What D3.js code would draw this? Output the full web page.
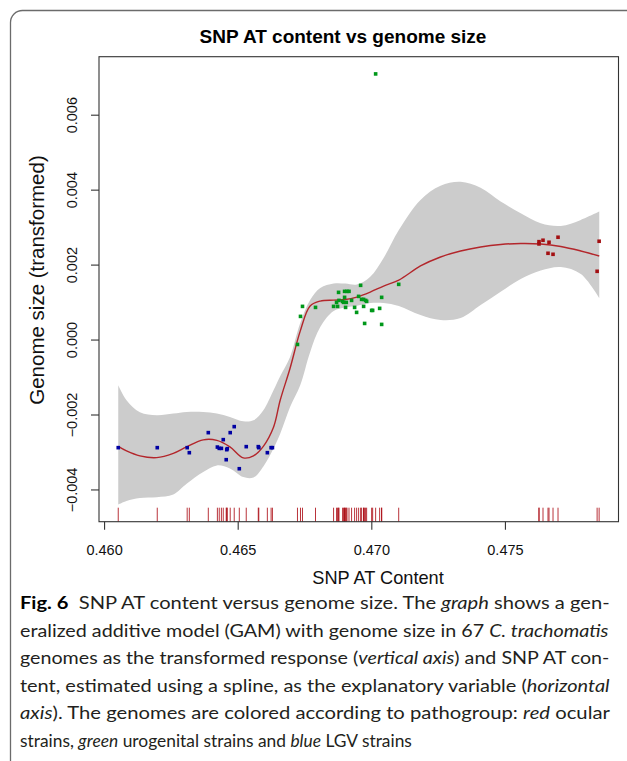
<!DOCTYPE html>
<html>
<head>
<meta charset="utf-8">
<script src="https://cdn.jsdelivr.net/npm/d3@7"></script>
<style>
  html, body { margin: 0; padding: 0; background: #fff; }
  svg { display: block; }
</style>
</head>
<body>
<svg id="chart" width="627" height="761"></svg>
<script>
// ---------------- data ----------------
const blueX = [0.46053,0.46199,0.46311,0.46319,0.46390,0.46424,0.46431,0.46439,0.46446,0.46459,0.46461,0.46472,0.46487,0.46457,0.46506,0.46532,0.46577,0.46579,0.46611,0.46625,0.46630];
const blueY = [-0.002885,-0.002885,-0.002885,-0.003019,-0.002484,-0.002869,-0.002904,-0.002904,-0.002671,-0.002939,-0.002912,-0.002484,-0.002324,-0.003206,-0.003447,-0.002858,-0.002858,-0.002885,-0.003019,-0.002885,-0.002885];

const greenX = [0.467237,0.467350,0.467425,0.467912,0.468588,0.468738,0.468700,0.468775,0.468790,0.468925,0.468962,0.469064,0.469000,0.469090,0.469165,0.469000,0.469037,0.469262,0.469375,0.469450,0.469525,0.469600,0.469637,0.469712,0.469787,0.469825,0.469712,0.469750,0.470012,0.470050,0.470312,0.470387,0.470387,0.471025,0.470162];
const greenY = [-0.000131,0.000618,0.000885,0.000858,0.000885,0.000885,0.000992,0.001259,0.001045,0.001019,0.000992,0.000992,0.001286,0.001286,0.001286,0.001126,0.000858,0.001045,0.000858,0.000725,0.001152,0.001447,0.001072,0.001072,0.001045,0.001019,0.000885,0.000430,0.000778,0.000778,0.000832,0.001126,0.000404,0.001473,0.007088];

const redX = [0.476275,0.476275,0.476425,0.476650,0.476987,0.476612,0.476800,0.478525,0.478450];
const redY = [0.002612,0.002551,0.002650,0.002596,0.002730,0.002302,0.002275,0.002623,0.001821];

// GAM smooth: grid, fit and shaded confidence band
const gridX = [0.46053,0.46084,0.46134,0.46197,0.46259,0.46309,0.46371,0.46422,0.46471,0.46521,0.46559,0.46596,0.46634,0.46659,0.46696,0.46734,0.46771,0.46809,0.46859,0.46903,0.46946,0.46996,0.47046,0.47103,0.47184,0.47259,0.47334,0.47409,0.47484,0.47559,0.47634,0.47709,0.47784,0.47853];
const fitY = [-0.002850,-0.002971,-0.003104,-0.003150,-0.003037,-0.002864,-0.002676,-0.002690,-0.002864,-0.003158,-0.003104,-0.002850,-0.002342,-0.001620,-0.000765,0.000225,0.000893,0.001027,0.001053,0.001067,0.001134,0.001267,0.001428,0.001588,0.001963,0.002203,0.002364,0.002471,0.002537,0.002564,0.002551,0.002484,0.002364,0.002230];
const upperY = [-0.001219,-0.001620,-0.001941,-0.002021,-0.001976,-0.001933,-0.001933,-0.001976,-0.002067,-0.002182,-0.002155,-0.001888,-0.001353,-0.000979,-0.000463,0.000439,0.001053,0.001374,0.001495,0.001495,0.001468,0.001676,0.002176,0.002925,0.003727,0.004102,0.004209,0.004048,0.003682,0.003372,0.003104,0.003032,0.003193,0.003414];
const lowerY = [-0.004401,-0.004307,-0.004227,-0.004206,-0.004134,-0.003848,-0.003537,-0.003358,-0.003439,-0.003671,-0.003679,-0.003385,-0.002904,-0.002511,-0.001799,-0.001219,-0.000337,0.000332,0.000759,0.000853,0.000901,0.000973,0.000973,0.000893,0.000652,0.000519,0.000572,0.000920,0.001275,0.001615,0.001842,0.001936,0.001749,0.001107];

const xTicks = [0.460, 0.465, 0.470, 0.475];
const xTickLabels = ["0.460", "0.465", "0.470", "0.475"];
const yTicks = [-0.004, -0.002, 0.000, 0.002, 0.004, 0.006];
const yTickLabels = ["\u22120.004", "\u22120.002", "0.000", "0.002", "0.004", "0.006"];

const titleText = "SNP AT content vs genome size";
const xLabel = "SNP AT Content";
const yLabel = "Genome size (transformed)";

const seriesColors = { red: "#a30f12", green: "#00981a", blue: "#0000a3" };

// caption lines: [text, style] segments
const captionLines = [
  [["Fig. 6", "b"], ["  SNP AT content versus genome size. The ", ""], ["graph", "i"], [" shows a gen-", ""]],
  [["eralized additive model (GAM) with genome size in 67 ", ""], ["C. trachomatis", "i"]],
  [["genomes as the transformed response (", ""], ["vertical axis", "i"], [") and SNP AT con-", ""]],
  [["tent, estimated using a spline, as the explanatory variable (", ""], ["horizontal", "i"]],
  [["axis", "i"], ["). The genomes are colored according to pathogroup: ", ""], ["red", "i"], [" ocular", ""]],
  [["strains, ", ""], ["green", "i"], [" urogenital strains and ", ""], ["blue", "i"], [" LGV strains", ""]]
];
const captionWidths = [590, 589, 590, 590, 590, 392];

// ---------------- layout ----------------
const svg = d3.select("#chart");
const pL = 99, pR = 618.5, pT = 56.7, pB = 521.7;

// outer figure frame
svg.append("rect")
  .attr("x", 10.5).attr("y", 10.5).attr("width", 720).attr("height", 800)
  .attr("rx", 12).attr("ry", 12)
  .attr("fill", "none").attr("stroke", "#6b6b6b").attr("stroke-width", 1.3);

// R-like 4% padded limits
function pad(ext) { const d = (ext[1] - ext[0]) * 0.04; return [ext[0] - d, ext[1] + d]; }
const allX = gridX.concat(blueX, greenX, redX);
const allY = lowerY.concat(upperY, blueY, greenY, redY);
const x = d3.scaleLinear().domain(pad(d3.extent(allX))).range([pL, pR]);
const y = d3.scaleLinear().domain(pad(d3.extent(allY))).range([pB, pT]);

const gam = gridX.map((gx, i) => ({ x: gx, fit: fitY[i], lo: lowerY[i], hi: upperY[i] }));

// confidence band
svg.append("path")
  .datum(gam)
  .attr("d", d3.area().curve(d3.curveCatmullRom.alpha(0.5))
    .x(d => x(d.x)).y0(d => y(d.lo)).y1(d => y(d.hi)))
  .attr("fill", "#cccccc").attr("stroke", "none");

// fitted smooth
svg.append("path")
  .datum(gam)
  .attr("d", d3.line().curve(d3.curveCatmullRom.alpha(0.5)).x(d => x(d.x)).y(d => y(d.fit)))
  .attr("fill", "none").attr("stroke", "#b3262b").attr("stroke-width", 1.4);

// points
const sq = 3.6;
function drawPts(xs, ys, col) {
  svg.append("g").selectAll("rect").data(xs.map((v, i) => [v, ys[i]])).enter()
    .append("rect")
    .attr("x", d => x(d[0]) - sq / 2).attr("y", d => y(d[1]) - sq / 2)
    .attr("width", sq).attr("height", sq).attr("fill", col);
}
drawPts(blueX, blueY, seriesColors.blue);
drawPts(greenX, greenY, seriesColors.green);
drawPts(redX, redY, seriesColors.red);

// rug of all observed x values
const rugX = blueX.concat(greenX, redX);
svg.append("g").selectAll("line").data(rugX).enter().append("line")
  .attr("x1", d => x(d)).attr("x2", d => x(d))
  .attr("y1", pB - 14).attr("y2", pB)
  .attr("stroke", "#a8000a").attr("stroke-width", 1).attr("stroke-opacity", 0.8);

// box
svg.append("rect")
  .attr("x", pL).attr("y", pT).attr("width", pR - pL).attr("height", pB - pT)
  .attr("fill", "none").attr("stroke", "#333").attr("stroke-width", 1.1);

// x axis
const xAxis = d3.axisBottom(x).tickValues(xTicks).tickSize(8).tickPadding(6)
  .tickFormat((d, i) => xTickLabels[i]);
const gx = svg.append("g").attr("transform", `translate(0,${pB})`).call(xAxis);
gx.select(".domain").remove();
gx.selectAll("line").attr("stroke", "#333").attr("stroke-width", 1.1);
gx.selectAll("text").attr("font-family", "Liberation Sans, Arial, sans-serif")
  .attr("font-size", "14.5px").attr("fill", "#111").attr("dy", null).attr("y", 33);

// y axis
const yAxis = d3.axisLeft(y).tickValues(yTicks).tickSize(8)
  .tickFormat((d, i) => yTickLabels[i]);
const gy = svg.append("g").attr("transform", `translate(${pL},0)`).call(yAxis);
gy.select(".domain").remove();
gy.selectAll("line").attr("stroke", "#333").attr("stroke-width", 1.1);
gy.selectAll("text")
  .attr("font-family", "Liberation Sans, Arial, sans-serif").attr("font-size", "14.5px").attr("fill", "#111")
  .attr("x", null).attr("dy", null)
  .attr("text-anchor", "middle")
  .attr("transform", "translate(-22,0) rotate(-90)");

// titles
svg.append("text").attr("x", 343).attr("y", 43).attr("text-anchor", "middle")
  .attr("font-family", "Liberation Sans, Arial, sans-serif").attr("font-weight", "bold")
  .attr("font-size", "19px").attr("fill", "#000").text(titleText);
svg.append("text").attr("x", 378).attr("y", 583.5).attr("text-anchor", "middle")
  .attr("font-family", "Liberation Sans, Arial, sans-serif")
  .attr("font-size", "18.2px").attr("fill", "#111").text(xLabel);
svg.append("text").attr("transform", "translate(44,280) rotate(-90)").attr("text-anchor", "middle")
  .attr("font-family", "Liberation Sans, Arial, sans-serif")
  .attr("font-size", "20.5px").attr("fill", "#111").text(yLabel);

// caption: each line fitted to its measured width
const capTop = 609, capStep = 27.6, capLeft = 20;
captionLines.forEach((segs, i) => {
  const t = svg.append("text")
    .attr("font-family", "Lato, Open Sans, sans-serif")
    .attr("font-size", "17px").attr("fill", "#231f20")
    .style("white-space", "pre");
  segs.forEach(([s, st]) => {
    const ts = t.append("tspan").text(s);
    if (st === "b") ts.attr("font-weight", "bold").attr("fill", "#000");
    if (st === "i") ts.attr("font-style", "italic");
  });
  const w = t.node().getComputedTextLength();
  const k = captionWidths[i] / w;
  t.attr("transform", `translate(${capLeft},${capTop + i * capStep}) scale(${k},1)`);
});
</script>
</body>
</html>
